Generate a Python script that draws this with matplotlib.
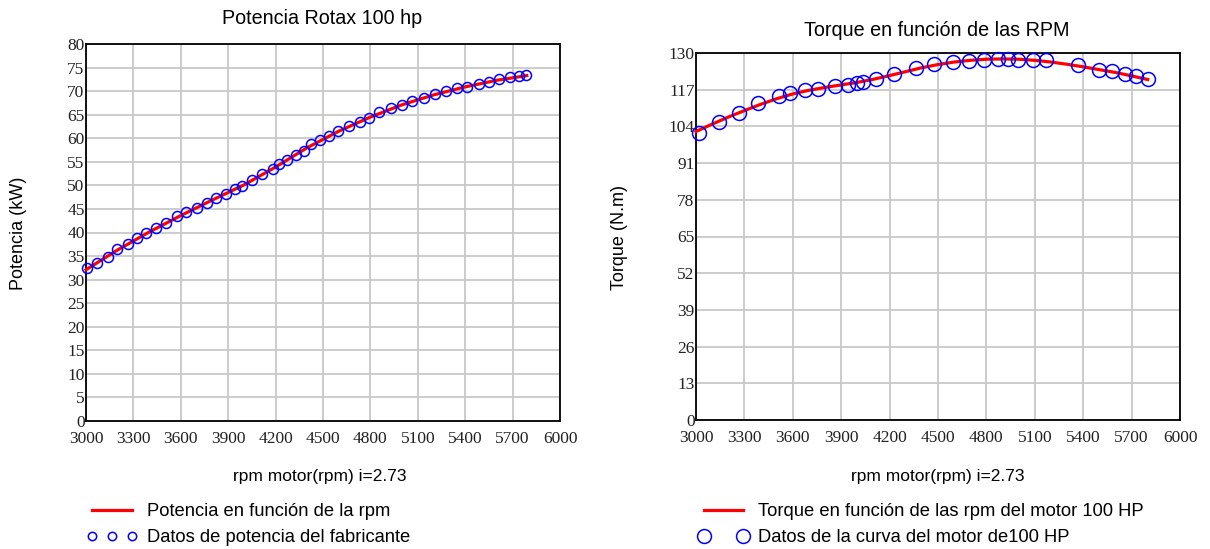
import matplotlib
matplotlib.use("Agg")
import matplotlib.pyplot as plt
import numpy as np

# ---- data: power (left) ----
power_rpm = [3008, 3071, 3140, 3197, 3266, 3323, 3382, 3443, 3508, 3576, 3635, 3702, 3765, 3824,
             3885, 3940, 3990, 4050, 4117, 4182, 4224, 4275, 4330, 4380, 4424, 4480, 4540, 4597,
             4666, 4734, 4792, 4854, 4928, 4997, 5064, 5140, 5212, 5277, 5345, 5411, 5485, 5550,
             5614, 5685, 5740, 5787]
power_kw = [32.4, 33.6, 34.9, 36.5, 37.5, 38.8, 40.0, 40.9, 42.1, 43.4, 44.3, 45.1, 46.2, 47.3,
            48.2, 49.2, 49.9, 51.1, 52.4, 53.4, 54.5, 55.4, 56.4, 57.4, 58.7, 59.6, 60.5, 61.5,
            62.6, 63.5, 64.4, 65.5, 66.4, 67.1, 68.0, 68.6, 69.3, 70.0, 70.6, 70.9, 71.5, 72.0,
            72.6, 72.9, 73.3, 73.4]
power_line_rpm = [3000, 3200, 3400, 3600, 3800, 4000, 4200, 4400, 4600, 4800, 5000, 5200, 5400, 5600, 5790]
power_line_kw = [32.1, 36.3, 40.1, 43.6, 46.9, 50.1, 53.9, 58.0, 61.5, 64.5, 67.1, 69.2, 70.9, 72.3, 73.3]

# ---- data: torque (right) ----
torque_rpm = [3019, 3145, 3269, 3382, 3514, 3583, 3676, 3758, 3862, 3944, 3996, 4033, 4116, 4229,
              4362, 4475, 4591, 4694, 4787, 4870, 4932, 4998, 5091, 5168, 5366, 5498, 5577, 5659,
              5727, 5804]
torque_nm = [101.6, 105.7, 108.7, 112.3, 114.9, 116.0, 117.0, 117.3, 118.2, 118.8, 119.4, 119.9,
             120.8, 122.6, 124.7, 126.1, 126.7, 127.3, 127.6, 127.9, 127.9, 127.4, 127.6, 127.4,
             125.8, 124.1, 123.5, 122.6, 121.7, 120.8]
torque_line_rpm = [3000, 3100, 3200, 3300, 3400, 3500, 3600, 3700, 3800, 3900, 4000, 4100, 4200,
                   4300, 4400, 4500, 4600, 4700, 4800, 4900, 5000, 5100, 5200, 5300, 5400, 5500,
                   5600, 5700, 5800]
torque_line_nm = [102.2, 104.8, 107.3, 109.6, 111.8, 113.8, 115.5, 116.8, 117.8, 118.7, 119.6, 120.7,
                  122.0, 123.4, 124.8, 125.9, 126.8, 127.4, 127.8, 127.9, 127.8, 127.4, 126.8, 126.0,
                  125.1, 124.1, 123.1, 121.9, 120.6]

power_yticks = list(range(0, 81, 5))
torque_yticks = [0, 13, 26, 39, 52, 65, 78, 91, 104, 117, 130]
rpm_ticks = list(range(3000, 6001, 300))

SERIF = ["Liberation Serif", "DejaVu Serif"]
SANS = ["Liberation Sans", "DejaVu Sans"]

W, H = 1210, 549
fig = plt.figure(figsize=(W / 100, H / 100), dpi=100)
fig.patch.set_facecolor("white")

L1, R1, T1, B1 = 86, 560, 44, 421
L2, R2, T2, B2 = 696, 1180, 53, 420
ax1 = fig.add_axes([L1 / W, 1 - B1 / H, (R1 - L1) / W, (B1 - T1) / H])
ax2 = fig.add_axes([L2 / W, 1 - B2 / H, (R2 - L2) / W, (B2 - T2) / H])


def style(ax, yticks, ymax):
    ax.set_xlim(3000, 6000)
    ax.set_ylim(0, ymax)
    ax.set_xticks(rpm_ticks)
    ax.set_yticks(yticks)
    ax.grid(True, color="#c8c8c8", linewidth=1.3)
    ax.set_axisbelow(True)
    for s in ax.spines.values():
        s.set_linewidth(1.3)
        s.set_color("black")
    ax.tick_params(axis="x", length=0, pad=7, labelsize=12.5)
    ax.tick_params(axis="y", length=0, pad=1, labelsize=12.5)
    for lab in ax.get_xticklabels() + ax.get_yticklabels():
        lab.set_family(SERIF)
        lab.set_color("#222222")


style(ax1, power_yticks, 80)
style(ax2, torque_yticks, 130)

ax1.plot(power_line_rpm, power_line_kw, color="red", lw=2.3, zorder=3,
         label="Potencia en función de la rpm", clip_on=False)
ax1.plot(power_rpm, power_kw, linestyle="none", marker="o", ms=7.2, mfc="none", mec="blue",
         mew=1.1, zorder=4, label="Datos de potencia del fabricante", clip_on=False)

ax2.plot(torque_line_rpm, torque_line_nm, color="red", lw=2.3, zorder=3,
         label="Torque en función de las rpm del motor 100 HP", clip_on=False)
ax2.plot(torque_rpm, torque_nm, linestyle="none", marker="o", ms=10, mfc="none", mec="blue",
         mew=1.1, zorder=4, label="Datos de la curva del motor de100 HP", clip_on=False)

# titles
ax1.text((322 - L1) / (R1 - L1), (B1 - 19) / (B1 - T1), "Potencia Rotax 100 hp",
         transform=ax1.transAxes, ha="center", va="center", family=SANS, fontsize=14.2)
ax2.text((937 - L2) / (R2 - L2), (B2 - 31) / (B2 - T2), "Torque en función de las RPM",
         transform=ax2.transAxes, ha="center", va="center", family=SANS, fontsize=14.2)

# axis labels
for ax, L, R, T, B, lab_y, xl_c, ylab, yl_right, yl_c in [
        (ax1, L1, R1, T1, B1, 469, 320, "Potencia (kW)", 27, 233),
        (ax2, L2, R2, T2, B2, 469, 938, "Torque (N.m)", 628, 238)]:
    ax.set_xlabel("rpm motor(rpm) i=2.73", family=SANS, fontsize=12.5)
    ax.xaxis.set_label_coords((xl_c - L) / (R - L), (B - lab_y) / (B - T))
    ax.set_ylabel(ylab, family=SANS, fontsize=13)
    ax.yaxis.set_label_coords((yl_right - L) / (R - L), (B - yl_c) / (B - T))

leg_kw = dict(loc="upper left", frameon=False, handlelength=2.75, handletextpad=0.5,
              labelspacing=0.5, borderpad=0, borderaxespad=0,
              prop={"family": SANS, "size": 13.2})
leg1 = fig.legend(handles=ax1.get_lines(), bbox_to_anchor=(87 / W, 1 - 503 / H),
                  numpoints=3, **leg_kw)
for h in leg1.legend_handles:
    if h.get_marker() == "o":
        h.set_markersize(6)
leg2 = fig.legend(handles=ax2.get_lines(), bbox_to_anchor=(698 / W, 1 - 503 / H),
                  numpoints=2, **leg_kw)

fig.savefig("out.png", dpi=100, facecolor="white")
